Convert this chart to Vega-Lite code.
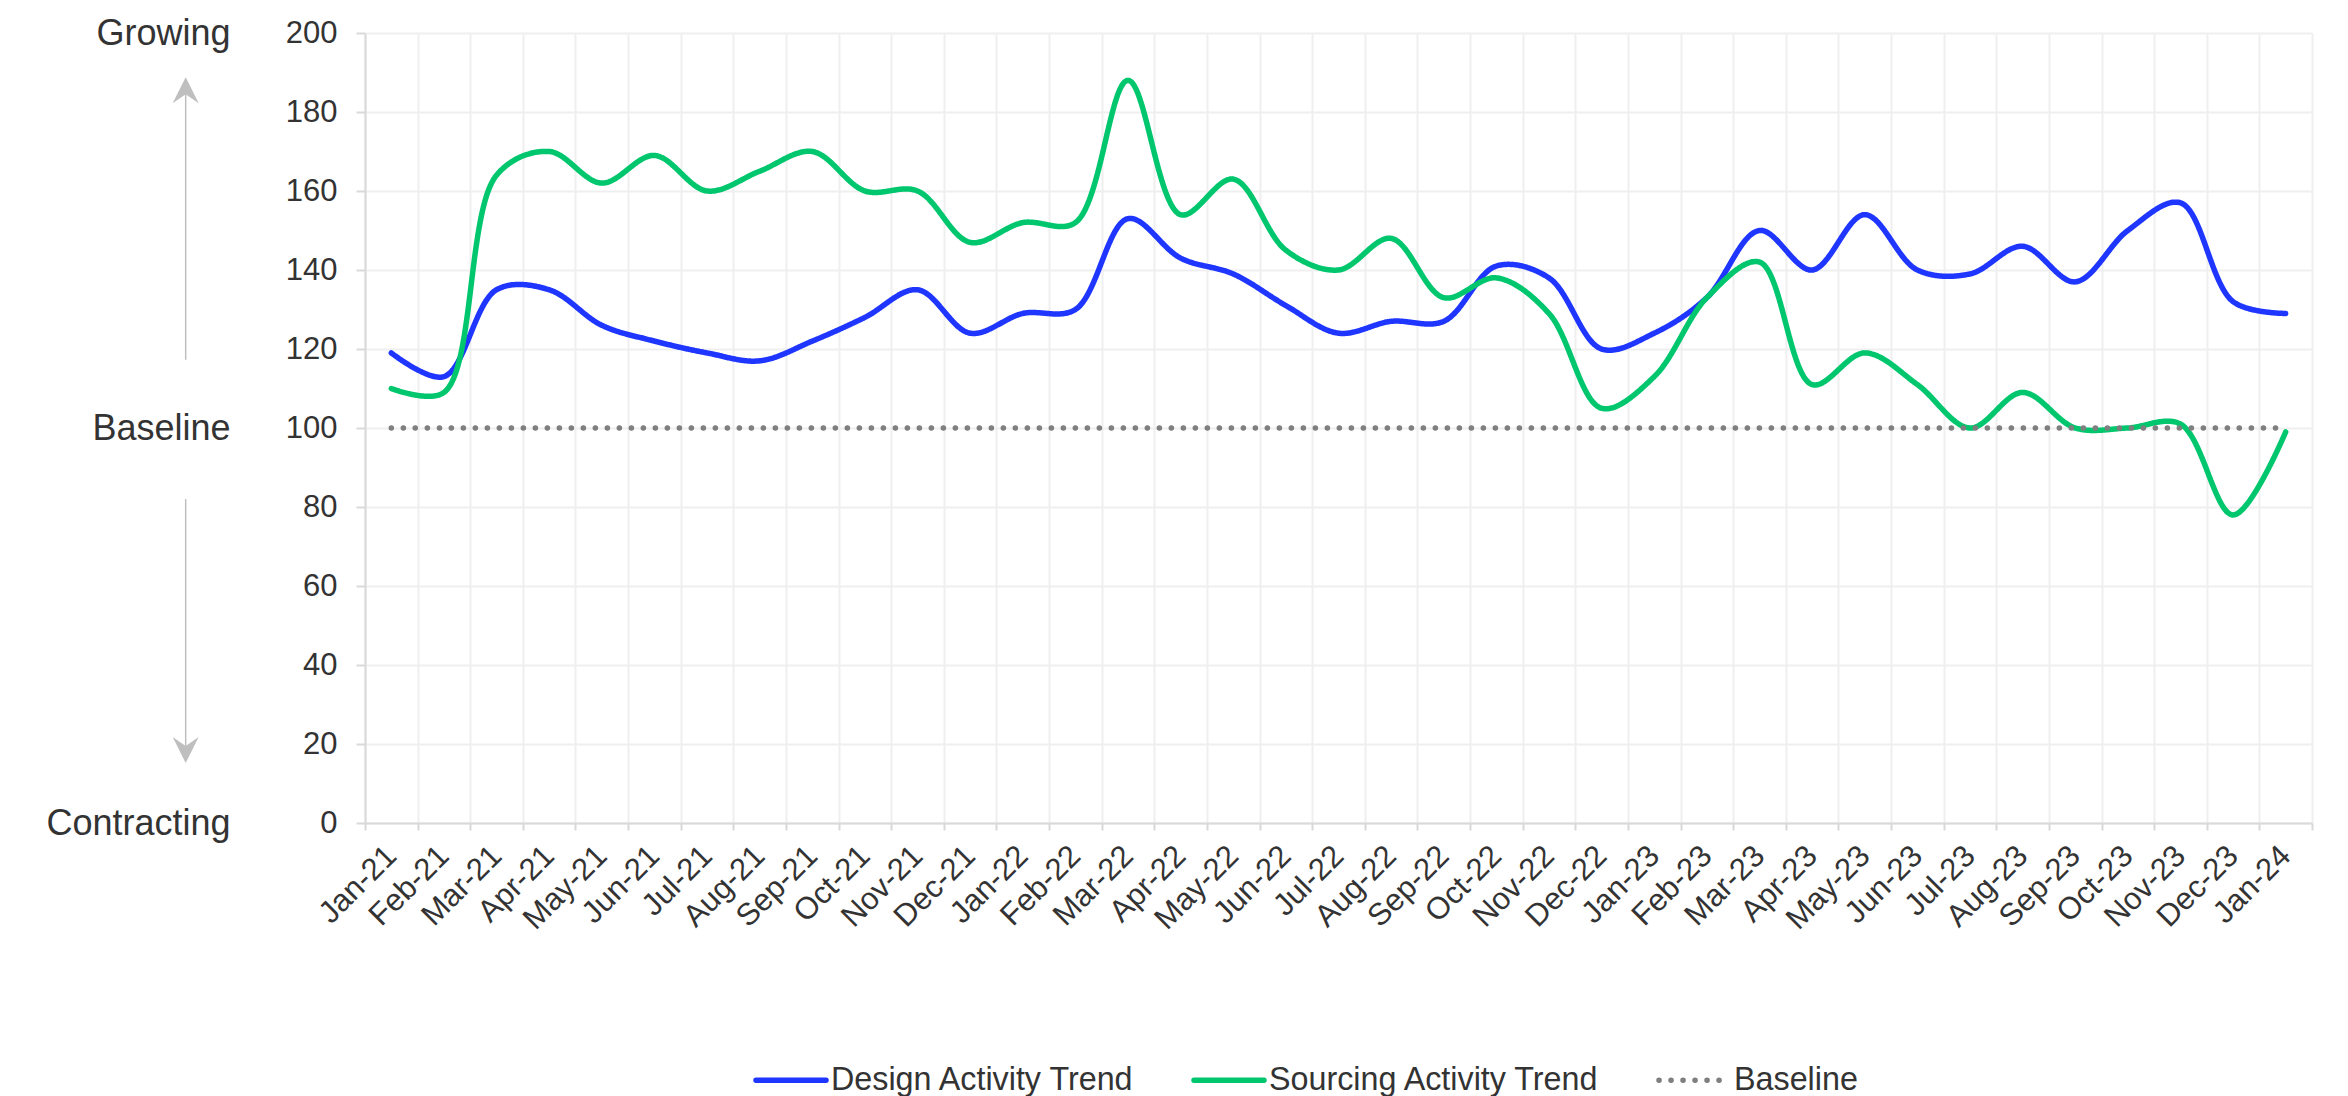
{
  "$schema": "https://vega.github.io/schema/vega-lite/v6.json",
  "width": 1947,
  "height": 790,
  "autosize": {"type": "none"},
  "padding": {"left": 365, "top": 33, "right": 36, "bottom": 273},
  "background": "white",
  "config": {
    "font": "Liberation Sans",
    "view": {"stroke": null},
    "legend": {
      "orient": "none",
      "legendX": 388,
      "legendY": 1009,
      "direction": "horizontal",
      "symbolType": "stroke",
      "symbolSize": 4900,
      "symbolStrokeWidth": 5.5,
      "labelFontSize": 32.3,
      "labelColor": "#333333",
      "labelFont": "Liberation Sans",
      "labelLimit": 0,
      "labelOffset": 2,
      "columnPadding": 48,
      "padding": 0
    }
  },
  "datasets": {
    "main": [
      {"month": "Jan-21", "series": "Design Activity Trend", "value": 119},
      {"month": "Feb-21", "series": "Design Activity Trend", "value": 113},
      {"month": "Mar-21", "series": "Design Activity Trend", "value": 135},
      {"month": "Apr-21", "series": "Design Activity Trend", "value": 135},
      {"month": "May-21", "series": "Design Activity Trend", "value": 126},
      {"month": "Jun-21", "series": "Design Activity Trend", "value": 122},
      {"month": "Jul-21", "series": "Design Activity Trend", "value": 119},
      {"month": "Aug-21", "series": "Design Activity Trend", "value": 117},
      {"month": "Sep-21", "series": "Design Activity Trend", "value": 122},
      {"month": "Oct-21", "series": "Design Activity Trend", "value": 128},
      {"month": "Nov-21", "series": "Design Activity Trend", "value": 135},
      {"month": "Dec-21", "series": "Design Activity Trend", "value": 124},
      {"month": "Jan-22", "series": "Design Activity Trend", "value": 129},
      {"month": "Feb-22", "series": "Design Activity Trend", "value": 130},
      {"month": "Mar-22", "series": "Design Activity Trend", "value": 153},
      {"month": "Apr-22", "series": "Design Activity Trend", "value": 143},
      {"month": "May-22", "series": "Design Activity Trend", "value": 139},
      {"month": "Jun-22", "series": "Design Activity Trend", "value": 131},
      {"month": "Jul-22", "series": "Design Activity Trend", "value": 124},
      {"month": "Aug-22", "series": "Design Activity Trend", "value": 127},
      {"month": "Sep-22", "series": "Design Activity Trend", "value": 127},
      {"month": "Oct-22", "series": "Design Activity Trend", "value": 141},
      {"month": "Nov-22", "series": "Design Activity Trend", "value": 138},
      {"month": "Dec-22", "series": "Design Activity Trend", "value": 120},
      {"month": "Jan-23", "series": "Design Activity Trend", "value": 124},
      {"month": "Feb-23", "series": "Design Activity Trend", "value": 133},
      {"month": "Mar-23", "series": "Design Activity Trend", "value": 150},
      {"month": "Apr-23", "series": "Design Activity Trend", "value": 140},
      {"month": "May-23", "series": "Design Activity Trend", "value": 154},
      {"month": "Jun-23", "series": "Design Activity Trend", "value": 140},
      {"month": "Jul-23", "series": "Design Activity Trend", "value": 139},
      {"month": "Aug-23", "series": "Design Activity Trend", "value": 146},
      {"month": "Sep-23", "series": "Design Activity Trend", "value": 137},
      {"month": "Oct-23", "series": "Design Activity Trend", "value": 150},
      {"month": "Nov-23", "series": "Design Activity Trend", "value": 157},
      {"month": "Dec-23", "series": "Design Activity Trend", "value": 132},
      {"month": "Jan-24", "series": "Design Activity Trend", "value": 129},
      {"month": "Jan-21", "series": "Sourcing Activity Trend", "value": 110},
      {"month": "Feb-21", "series": "Sourcing Activity Trend", "value": 109},
      {"month": "Mar-21", "series": "Sourcing Activity Trend", "value": 164},
      {"month": "Apr-21", "series": "Sourcing Activity Trend", "value": 170},
      {"month": "May-21", "series": "Sourcing Activity Trend", "value": 162},
      {"month": "Jun-21", "series": "Sourcing Activity Trend", "value": 169},
      {"month": "Jul-21", "series": "Sourcing Activity Trend", "value": 160},
      {"month": "Aug-21", "series": "Sourcing Activity Trend", "value": 165},
      {"month": "Sep-21", "series": "Sourcing Activity Trend", "value": 170},
      {"month": "Oct-21", "series": "Sourcing Activity Trend", "value": 160},
      {"month": "Nov-21", "series": "Sourcing Activity Trend", "value": 160},
      {"month": "Dec-21", "series": "Sourcing Activity Trend", "value": 147},
      {"month": "Jan-22", "series": "Sourcing Activity Trend", "value": 152},
      {"month": "Feb-22", "series": "Sourcing Activity Trend", "value": 152},
      {"month": "Mar-22", "series": "Sourcing Activity Trend", "value": 188},
      {"month": "Apr-22", "series": "Sourcing Activity Trend", "value": 154},
      {"month": "May-22", "series": "Sourcing Activity Trend", "value": 163},
      {"month": "Jun-22", "series": "Sourcing Activity Trend", "value": 145},
      {"month": "Jul-22", "series": "Sourcing Activity Trend", "value": 140},
      {"month": "Aug-22", "series": "Sourcing Activity Trend", "value": 148},
      {"month": "Sep-22", "series": "Sourcing Activity Trend", "value": 133},
      {"month": "Oct-22", "series": "Sourcing Activity Trend", "value": 138},
      {"month": "Nov-22", "series": "Sourcing Activity Trend", "value": 129},
      {"month": "Dec-22", "series": "Sourcing Activity Trend", "value": 105},
      {"month": "Jan-23", "series": "Sourcing Activity Trend", "value": 113},
      {"month": "Feb-23", "series": "Sourcing Activity Trend", "value": 133},
      {"month": "Mar-23", "series": "Sourcing Activity Trend", "value": 142},
      {"month": "Apr-23", "series": "Sourcing Activity Trend", "value": 111},
      {"month": "May-23", "series": "Sourcing Activity Trend", "value": 119},
      {"month": "Jun-23", "series": "Sourcing Activity Trend", "value": 111},
      {"month": "Jul-23", "series": "Sourcing Activity Trend", "value": 100},
      {"month": "Aug-23", "series": "Sourcing Activity Trend", "value": 109},
      {"month": "Sep-23", "series": "Sourcing Activity Trend", "value": 100},
      {"month": "Oct-23", "series": "Sourcing Activity Trend", "value": 100},
      {"month": "Nov-23", "series": "Sourcing Activity Trend", "value": 101},
      {"month": "Dec-23", "series": "Sourcing Activity Trend", "value": 78},
      {"month": "Jan-24", "series": "Sourcing Activity Trend", "value": 99},
      {"month": "Jan-21", "series": "Baseline", "value": 100},
      {"month": "Feb-21", "series": "Baseline", "value": 100},
      {"month": "Mar-21", "series": "Baseline", "value": 100},
      {"month": "Apr-21", "series": "Baseline", "value": 100},
      {"month": "May-21", "series": "Baseline", "value": 100},
      {"month": "Jun-21", "series": "Baseline", "value": 100},
      {"month": "Jul-21", "series": "Baseline", "value": 100},
      {"month": "Aug-21", "series": "Baseline", "value": 100},
      {"month": "Sep-21", "series": "Baseline", "value": 100},
      {"month": "Oct-21", "series": "Baseline", "value": 100},
      {"month": "Nov-21", "series": "Baseline", "value": 100},
      {"month": "Dec-21", "series": "Baseline", "value": 100},
      {"month": "Jan-22", "series": "Baseline", "value": 100},
      {"month": "Feb-22", "series": "Baseline", "value": 100},
      {"month": "Mar-22", "series": "Baseline", "value": 100},
      {"month": "Apr-22", "series": "Baseline", "value": 100},
      {"month": "May-22", "series": "Baseline", "value": 100},
      {"month": "Jun-22", "series": "Baseline", "value": 100},
      {"month": "Jul-22", "series": "Baseline", "value": 100},
      {"month": "Aug-22", "series": "Baseline", "value": 100},
      {"month": "Sep-22", "series": "Baseline", "value": 100},
      {"month": "Oct-22", "series": "Baseline", "value": 100},
      {"month": "Nov-22", "series": "Baseline", "value": 100},
      {"month": "Dec-22", "series": "Baseline", "value": 100},
      {"month": "Jan-23", "series": "Baseline", "value": 100},
      {"month": "Feb-23", "series": "Baseline", "value": 100},
      {"month": "Mar-23", "series": "Baseline", "value": 100},
      {"month": "Apr-23", "series": "Baseline", "value": 100},
      {"month": "May-23", "series": "Baseline", "value": 100},
      {"month": "Jun-23", "series": "Baseline", "value": 100},
      {"month": "Jul-23", "series": "Baseline", "value": 100},
      {"month": "Aug-23", "series": "Baseline", "value": 100},
      {"month": "Sep-23", "series": "Baseline", "value": 100},
      {"month": "Oct-23", "series": "Baseline", "value": 100},
      {"month": "Nov-23", "series": "Baseline", "value": 100},
      {"month": "Dec-23", "series": "Baseline", "value": 100},
      {"month": "Jan-24", "series": "Baseline", "value": 100}
    ],
    "arrows": [
      {"dir": "up", "pos": -0.0921, "from": 117.3, "to": 185},
      {"dir": "down", "pos": -0.0921, "from": 82, "to": 19}
    ],
    "heads": [
      {"dir": "up", "pos": -0.0921, "at": 185.5},
      {"dir": "down", "pos": -0.0921, "at": 18.5}
    ]
  },
  "layer": [
    {
      "data": {"name": "main"},
      "mark": {"type": "line", "interpolate": "catmull-rom", "strokeWidth": 5.5, "strokeCap": "round"},
      "encoding": {
        "x": {
          "field": "month",
          "type": "ordinal",
          "sort": null,
          "bandPosition": 0.5,
          "scale": {"type": "band", "paddingInner": 0, "paddingOuter": 0},
          "axis": {
            "title": null,
            "tickBand": "extent",
            "labelAngle": -45,
            "labelAlign": "right",
            "labelBaseline": "middle",
            "labelFontSize": 31,
            "labelColor": "#333333",
            "labelPadding": 21,
            "labelLimit": 0,
            "tickSize": 7,
            "tickColor": "#d9d9d9",
            "tickWidth": 2,
            "domainColor": "#d9d9d9",
            "domainWidth": 2,
            "grid": true,
            "gridColor": "#efefef",
            "gridWidth": 2
          }
        },
        "y": {
          "field": "value",
          "type": "quantitative",
          "scale": {"domain": [0, 200], "nice": false, "zero": true},
          "axis": {
            "title": null,
            "values": [0, 20, 40, 60, 80, 100, 120, 140, 160, 180, 200],
            "labelFontSize": 31,
            "labelColor": "#333333",
            "labelPadding": 19,
            "labelFlush": false,
            "tickSize": 9,
            "tickColor": "#d9d9d9",
            "tickWidth": 2,
            "domainColor": "#d9d9d9",
            "domainWidth": 2,
            "grid": true,
            "gridColor": "#efefef",
            "gridWidth": 2
          }
        },
        "color": {
          "field": "series",
          "type": "nominal",
          "scale": {
            "domain": ["Design Activity Trend", "Sourcing Activity Trend", "Baseline"],
            "range": ["#1e36ff", "#00c66e", "#7f7f7f"]
          },
          "legend": {
            "title": null,
            "labelLimit": 0,
            "encode": {"symbols": {"update": {"strokeCap": {"value": "round"}}}}
          }
        },
        "strokeDash": {
          "field": "series",
          "type": "nominal",
          "scale": {
            "domain": ["Design Activity Trend", "Sourcing Activity Trend", "Baseline"],
            "range": [[1, 0], [1, 0], [0.1, 11.9]]
          },
          "legend": {"title": null, "labelLimit": 0}
        }
      }
    },
    {
      "data": {"name": "arrows"},
      "mark": {"type": "rule", "color": "#bfbfbf", "strokeWidth": 1.5},
      "encoding": {
        "x": {"field": "pos", "type": "quantitative", "scale": {"domain": [0, 1], "nice": false, "zero": false}, "axis": null},
        "y": {
          "field": "from",
          "type": "quantitative",
          "scale": {"domain": [0, 200], "nice": false},
          "axis": {
            "orient": "left",
            "title": null,
            "values": [0, 100, 200],
            "labelExpr": "datum.value == 200 ? 'Growing' : datum.value == 100 ? 'Baseline' : 'Contracting'",
            "labelFontSize": 36,
            "labelColor": "#333333",
            "labelPadding": 135,
            "labelLimit": 0,
            "labelFlush": false,
            "ticks": false,
            "tickSize": 0,
            "domain": false,
            "grid": false
          }
        },
        "y2": {"field": "to"}
      }
    },
    {
      "data": {"name": "heads"},
      "mark": {"type": "point", "filled": true, "opacity": 1, "color": "#bfbfbf", "size": 676},
      "encoding": {
        "x": {"field": "pos", "type": "quantitative", "scale": {"domain": [0, 1], "nice": false, "zero": false}, "axis": null},
        "y": {"field": "at", "type": "quantitative", "scale": {"domain": [0, 200], "nice": false}, "axis": null},
        "shape": {
          "field": "dir",
          "type": "nominal",
          "scale": {"domain": ["up", "down"], "range": ["M0,-1L1,1L0,0.3L-1,1Z", "M0,1L1,-1L0,-0.3L-1,-1Z"]},
          "legend": null
        }
      }
    }
  ],
  "resolve": {
    "scale": {"x": "independent"},
    "axis": {"y": "independent", "x": "independent"}
  }
}
